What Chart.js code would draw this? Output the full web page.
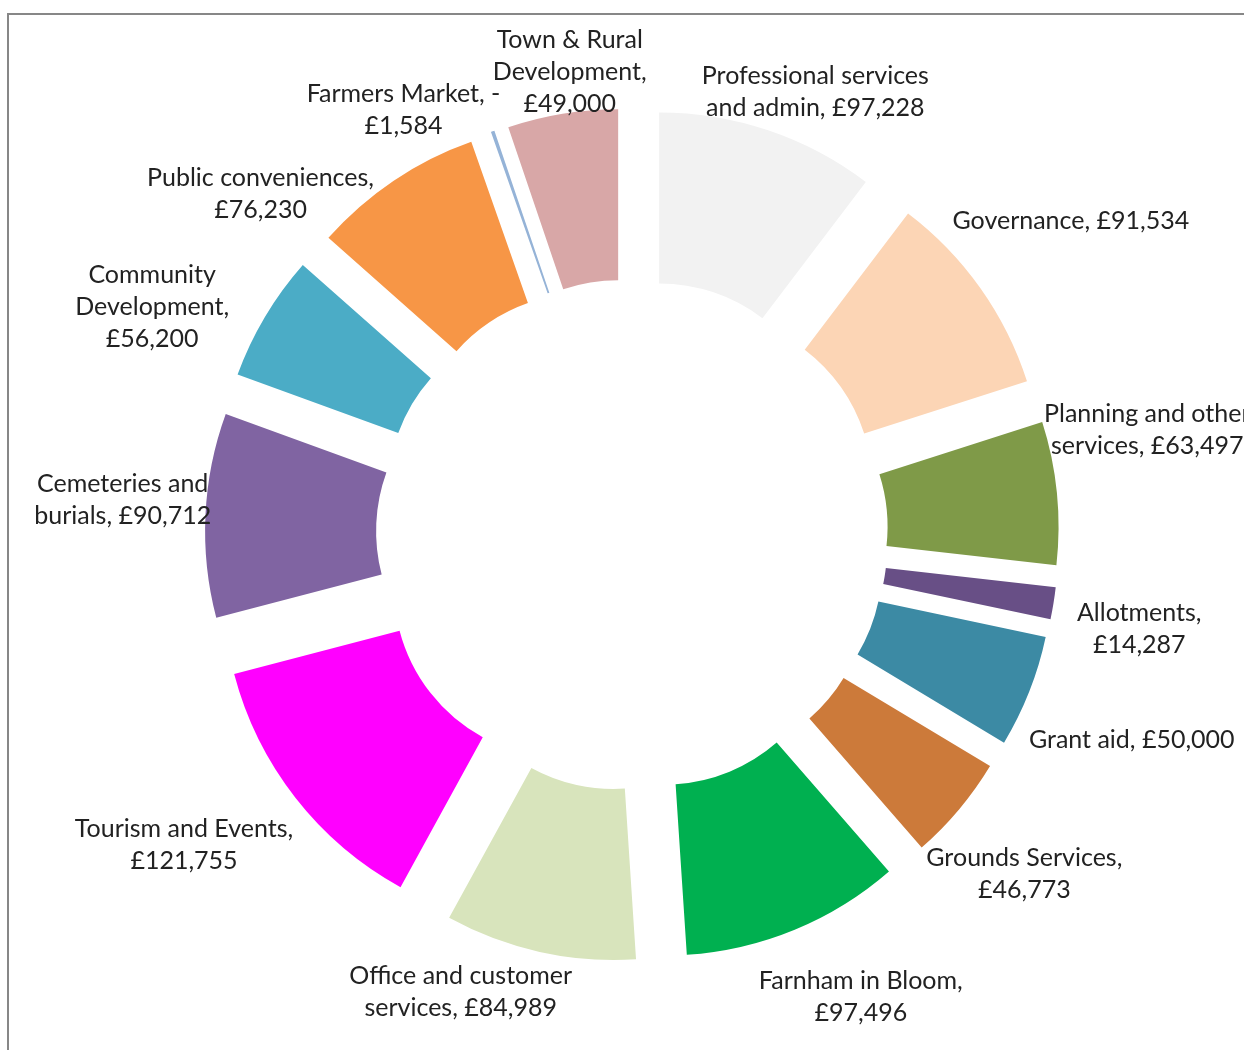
<!DOCTYPE html>
<html>
<head>
<meta charset="utf-8">
<title>Budget by service</title>
<script src="https://cdn.jsdelivr.net/npm/chart.js@4.4.1/dist/chart.umd.min.js"></script>
<style>
  html, body { margin:0; padding:0; background:#fff; }
  #wrap { position:relative; width:1244px; height:1050px; overflow:hidden; }
  #frame { position:absolute; left:7px; top:13px; right:-4px; bottom:-4px;
           border-top:2px solid #878787; border-left:2px solid #878787; pointer-events:none; }
</style>
</head>
<body>
<div id="wrap">
  <canvas id="budgetChart" width="1244" height="1050"></canvas>
  <div id="frame"></div>
</div>
<script>
// services, clockwise from 12 o'clock
const categories = [
  "Professional services and admin", "Governance", "Planning and other services",
  "Allotments", "Grant aid", "Grounds Services", "Farnham in Bloom",
  "Office and customer services", "Tourism and Events", "Cemeteries and burials",
  "Community Development", "Public conveniences", "Farmers Market", "Town & Rural Development"
];
const amounts = [97228, 91534, 63497, 14287, 50000, 46773, 97496, 84989, 121755, 90712, 56200, 76230, -1584, 49000];
const sliceColors = [
  "#F2F2F2", "#FCD5B5", "#7F9A48", "#684F86", "#3C8AA4", "#CC7A3A", "#00B050",
  "#D8E4BC", "#FF00FF", "#8064A2", "#4BACC6", "#F79646", "#95B3D7", "#D8A7A7"
];
// data label text, wrapped as in the original
const labelLines = [
  ["Professional services", "and admin, £97,228"],
  ["Governance, £91,534"],
  ["Planning and other", "services, £63,497"],
  ["Allotments,", "£14,287"],
  ["Grant aid, £50,000"],
  ["Grounds Services,", "£46,773"],
  ["Farnham in Bloom,", "£97,496"],
  ["Office and customer", "services, £84,989"],
  ["Tourism and Events,", "£121,755"],
  ["Cemeteries and", "burials, £90,712"],
  ["Community", "Development,", "£56,200"],
  ["Public conveniences,", "£76,230"],
  ["Farmers Market, -", "£1,584"],
  ["Town & Rural", "Development,", "£49,000"]
];
// small moves of each label away from its default spot (px)
const labelNudge = [
  [26, 22], [4, -9], [-15, -55], [20, 12], [8, 8], [-8, 0], [40, 1],
  [-67, -17], [-28, -21], [7, -14], [-35, 34], [-83, 85], [-69, 34], [17, 14]
];

const EXPLODE = 85;
const LINE_H = 32;

// pull every slice out from the centre along its own mid angle
const explodePlugin = {
  id: "explode",
  beforeDatasetDraw(chart, args) {
    chart.getDatasetMeta(args.index).data.forEach(arc => {
      const mid = (arc.startAngle + arc.endAngle) / 2;
      arc.x += Math.cos(mid) * EXPLODE;
      arc.y += Math.sin(mid) * EXPLODE;
    });
  },
  afterDatasetDraw(chart, args) {
    chart.getDatasetMeta(args.index).data.forEach(arc => {
      const mid = (arc.startAngle + arc.endAngle) / 2;
      arc.x -= Math.cos(mid) * EXPLODE;
      arc.y -= Math.sin(mid) * EXPLODE;
    });
  }
};

const labelPlugin = {
  id: "sliceLabels",
  afterDraw(chart) {
    const ctx = chart.ctx;
    const meta = chart.getDatasetMeta(0);
    ctx.save();
    ctx.font = "25px Lato";
    ctx.fillStyle = "#222222";
    ctx.textAlign = "center";
    ctx.textBaseline = "middle";
    meta.data.forEach((arc, i) => {
      const lines = labelLines[i];
      const mid = (arc.startAngle + arc.endAngle) / 2;
      const ux = Math.cos(mid), uy = Math.sin(mid);
      const w = Math.max(...lines.map(t => ctx.measureText(t).width));
      const h = lines.length * LINE_H;
      const dist = arc.outerRadius + EXPLODE + Math.abs(ux) * w / 2 + Math.abs(uy) * h / 2;
      const x = arc.x + ux * dist + labelNudge[i][0];
      const y = arc.y + uy * dist + labelNudge[i][1] + 3;
      lines.forEach((t, k) => {
        ctx.fillText(t, x, y + (k - (lines.length - 1) / 2) * LINE_H);
      });
    });
    ctx.restore();
  }
};

new Chart(document.getElementById("budgetChart"), {
  type: "doughnut",
  data: {
    labels: categories,
    datasets: [{
      data: amounts,
      backgroundColor: sliceColors,
      borderWidth: 0,
      hoverOffset: 0
    }]
  },
  options: {
    responsive: false,
    animation: false,
    cutout: "50%",
    layout: { padding: { left: 290, right: 270, top: 193, bottom: 173 } },
    plugins: {
      legend: { display: false },
      tooltip: { enabled: false }
    }
  },
  plugins: [explodePlugin, labelPlugin]
});
</script>
</body>
</html>
